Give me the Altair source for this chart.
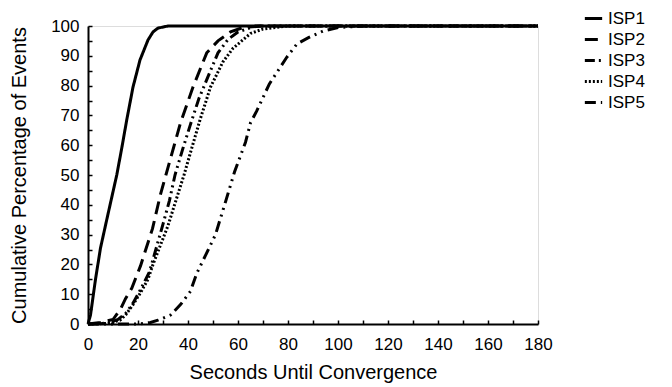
import altair as alt
import pandas as pd

series = ["ISP1", "ISP2", "ISP3", "ISP4", "ISP5"]

isp1_x = [0, 1, 3, 5, 7.5, 9.5, 11.5, 13.5, 15.5, 18, 20.8, 24, 26, 28, 32, 180]
isp1_y = [0, 3, 15, 25.5, 35, 42.5, 50, 59, 68.5, 79.5, 88.6, 95.3, 98, 99.3, 100, 100]

isp2_x = [0, 5, 10, 13, 15, 17.5, 21, 25.8, 29, 33, 37, 42, 47.5, 52, 57, 62, 70, 180]
isp2_y = [0, 0.5, 1.5, 5, 8.5, 12, 19.5, 32, 43.5, 55.5, 67.5, 79.5, 91, 95, 98, 99.5, 100, 100]

isp3_x = [0, 8, 12, 15, 18, 21, 24.6, 30, 32.6, 34.8, 38, 40.8, 44.3, 48, 52, 56, 60, 67, 180]
isp3_y = [0, 0.3, 1.5, 3.5, 7, 11.5, 17.5, 33.5, 41.5, 50, 59, 66.5, 75.5, 83, 91, 95.5, 98, 100, 100]

isp4_x = [0, 8, 12.8, 15, 18, 21, 24, 26, 29, 32, 35, 38.4, 41.5, 44.8, 49, 54, 58, 65, 70, 80, 180]
isp4_y = [0, 0.2, 1.3, 3, 6.5, 10.5, 15, 20, 26.5, 33, 41, 50, 59, 68.5, 79.5, 88, 92.5, 97.5, 99, 100, 100]

isp5_x = [0, 20, 25, 28, 33, 37, 41, 43.5, 47, 51, 55, 58.6, 63, 65, 67.5, 72.5, 79.5, 83.6, 88, 94, 100, 110, 180]
isp5_y = [0, 0, 0.5, 1.3, 3, 6.5, 11, 17, 23, 30, 41, 51, 61, 67.5, 71.5, 80.5, 89.5, 94, 96, 98.3, 99.5, 100, 100]

x_ticks = list(range(0, 181, 20))
x_minor = list(range(0, 181, 10))
y_ticks = list(range(0, 101, 10))
y_minor = list(range(0, 101, 5))

dashes = [[1, 0], [13, 7], [10, 4, 2, 4, 2, 4], [2, 2], [11, 5, 2, 5, 2, 5]]

rows = []
for name, xs, ys in zip(series, [isp1_x, isp2_x, isp3_x, isp4_x, isp5_x],
                        [isp1_y, isp2_y, isp3_y, isp4_y, isp5_y]):
    for i, (a, b) in enumerate(zip(xs, ys)):
        rows.append({"series": name, "t": a, "v": b, "i": i})
df = pd.DataFrame(rows)

FONT = "Liberation Sans"

x_scale = alt.Scale(domain=[0, 180], nice=False)
y_scale = alt.Scale(domain=[0, 100], nice=False)

lines = alt.Chart(df).mark_line(strokeWidth=3, color="black").encode(
    x=alt.X("t:Q", scale=x_scale, axis=alt.Axis(
        orient="bottom", values=x_ticks, ticks=False, grid=False,
        title="Seconds Until Convergence", labelFontSize=17, titleFontSize=20,
        labelPadding=12, titlePadding=10, domainColor="black", domainWidth=2,
        labelColor="black", titleColor="black", titleFontWeight="normal",
        labelFlush=False, labelOverlap=False,
        labelFont=FONT, titleFont=FONT)),
    y=alt.Y("v:Q", scale=y_scale, axis=alt.Axis(
        orient="left", values=y_ticks, ticks=False, grid=False,
        title="Cumulative Percentage of Events", labelFontSize=17, titleFontSize=20,
        labelPadding=9, titlePadding=21, domainColor="black", domainWidth=2,
        labelColor="black", titleColor="black", titleFontWeight="normal",
        labelFlush=False, labelOverlap=False,
        labelFont=FONT, titleFont=FONT)),
    strokeDash=alt.StrokeDash("series:N", scale=alt.Scale(domain=series, range=dashes),
                              legend=alt.Legend(
                                  title=None, orient="none", legendX=495, legendY=-18,
                                  labelFontSize=17, labelFont=FONT, labelColor="black",
                                  symbolType="stroke", symbolSize=300, symbolStrokeWidth=3,
                                  symbolStrokeColor="black", rowPadding=2, labelOffset=4)),
    order="i:Q",
)

ticks = alt.Chart(df).mark_point(opacity=0).encode(
    x=alt.X("t:Q", scale=x_scale, axis=alt.Axis(
        orient="bottom", values=x_minor, labels=False, domain=False, grid=False,
        tickSize=4, offset=-4, tickWidth=1.5, tickColor="black", title=None)),
    y=alt.Y("v:Q", scale=y_scale, axis=alt.Axis(
        orient="left", values=y_minor, labels=False, domain=False, grid=False,
        tickSize=4, offset=-4, tickWidth=1.5, tickColor="black", title=None)),
)

chart = alt.layer(lines, ticks).resolve_axis(x="independent", y="independent").properties(
    width=450, height=298,
    autosize=alt.AutoSizeParams(type="none"),
    padding={"left": 80, "top": 18, "right": 126, "bottom": 62},
).configure_view(stroke=None).configure(background="white")

chart.save("out.html", embed_options={"renderer": "svg", "actions": False})
